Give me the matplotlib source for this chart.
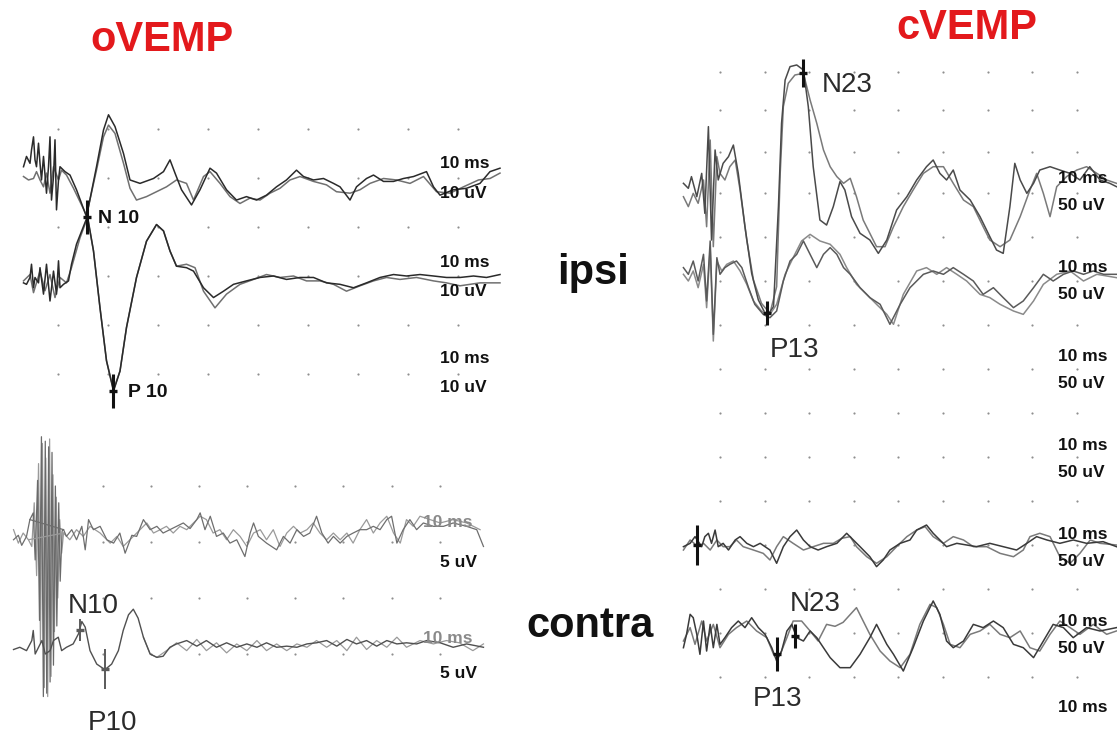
import numpy as np
import matplotlib
matplotlib.use("Agg")
import matplotlib.pyplot as plt

plt.rcParams['font.family'] = ['Liberation Sans', 'DejaVu Sans']

# ---------------- data: (latency ms, amplitude uV) read from the recording ----------------

# oVEMP ipsi, upper pair
ov_ipsi_a = [(3.1, 2.3), (3.7, 4.4), (4.4, 3.0), (4.7, 5.7), (5.1, 8.4), (5.4, 3.7), (5.7, 2.3),
             (6.1, 7.1), (6.4, 3.0), (6.7, -0.4), (7.1, 4.4), (7.7, -3.1), (8.1, 2.3), (8.4, 8.4),
             (8.7, -4.5), (9.1, 0.3), (9.4, 7.8), (9.7, -6.5), (10.1, -0.4), (10.4, 2.3), (11.4, 1.3),
             (12.4, 0.6), (13.7, -2.4), (15.7, -7.9), (17.7, 2.3), (19.1, 9.8), (20.1, 12.9),
             (21.4, 10.5), (23.1, 5.0), (24.4, -0.4), (26.4, -1.1), (29.1, -0.1), (31.1, 1.3),
             (32.4, 3.7), (33.4, 1.0), (34.7, -2.4), (36.7, -5.5), (38.4, -2.4), (40.4, 2.0),
             (41.7, 1.0), (43.7, -2.4), (45.7, -4.5), (47.7, -3.8), (49.7, -4.5), (51.7, -3.5),
             (53.7, -1.8), (55.7, -0.4), (57.7, 1.6), (59.1, 0.3), (61.1, -0.4), (63.1, -0.1),
             (65.1, -1.1), (66.4, -1.8), (68.4, -4.5), (69.7, -1.8), (71.7, -0.1), (73.1, 0.6),
             (75.1, -0.7), (77.1, -0.7), (79.1, -0.1), (81.1, 0.3), (83.7, 1.3), (85.1, -1.8),
             (86.4, -3.5), (89.1, -2.4), (91.7, -2.1), (94.4, -1.1), (96.4, 1.3), (98.4, 2.0)]
ov_ipsi_b = [(3.1, 0.3), (4.1, -0.4), (5.1, -0.1), (5.7, 1.3), (6.4, -0.4), (7.1, -1.8), (7.7, 1.0),
             (8.4, -3.1), (9.1, 2.3), (10.1, -0.4), (10.7, 1.6), (11.7, 0.6), (13.1, -2.1),
             (15.7, -7.6), (17.7, 1.6), (19.1, 8.4), (20.1, 10.8), (21.4, 9.1), (23.1, 3.0),
             (24.4, -2.1), (25.7, -4.5), (27.7, -3.8), (29.7, -2.8), (31.7, -1.8), (33.7, -0.4),
             (35.7, -1.1), (37.1, -4.5), (39.1, 0.3), (40.4, 1.3), (42.4, -1.1), (44.4, -3.8),
             (46.4, -5.2), (48.4, -4.1), (50.4, -4.5), (52.4, -3.1), (54.4, -2.1), (56.4, -0.4),
             (58.4, 0.3), (61.1, -0.7), (63.7, -1.4), (65.7, -2.8), (68.4, -3.1), (70.4, -2.4),
             (72.4, -1.1), (75.1, -0.1), (77.7, -0.4), (80.4, -1.1), (83.1, 0.3), (85.7, -2.8),
             (88.4, -3.1), (91.1, -1.8), (94.1, -0.4), (96.4, -0.1), (98.4, 1.0)]
# oVEMP ipsi, lower pair
ov_ipsi_c = [(3.1, -1.4), (3.7, -1.7), (4.4, -0.3), (4.7, 2.4), (5.1, -2.4), (5.4, -0.3), (6.1, -1.4),
             (6.4, 1.7), (7.1, -3.7), (7.7, 2.4), (8.4, -5.1), (9.1, 1.0), (9.7, -3.7), (10.1, 3.1),
             (10.4, -2.4), (11.1, -1.7), (12.1, -1.0), (12.7, 2.4), (13.7, 6.5), (15.9, 12.2),
             (17.1, 5.1), (18.4, -6.5), (19.7, -17.3), (21.1, -23.5), (22.4, -19.4), (23.7, -10.5),
             (25.7, -0.3), (27.7, 7.1), (29.7, 10.5), (31.1, 9.2), (32.4, 5.1), (33.7, 2.0),
             (35.7, 1.7), (37.1, 1.0), (39.1, -2.4), (41.1, -4.4), (43.1, -3.1), (45.1, -1.7),
             (47.7, -1.0), (50.4, -0.3), (53.1, 0.0), (55.7, -0.7), (58.4, -0.3), (61.1, -0.3),
             (63.7, -1.4), (66.4, -1.7), (69.1, -2.4), (71.7, -1.4), (74.4, -0.3), (77.1, 0.3),
             (79.7, 0.0), (82.4, 0.3), (85.1, 0.0), (87.7, -0.3), (90.4, -0.3), (93.1, 0.0),
             (95.7, -0.3), (98.4, 0.3)]
ov_ipsi_d = [(3.1, -1.0), (4.4, 0.3), (5.1, -3.4), (6.4, 1.0), (7.4, -3.0), (8.4, 0.3), (9.4, -4.4),
             (10.4, -0.3), (11.7, -1.4), (12.7, 1.7), (14.4, 7.8), (15.9, 11.9), (17.1, 5.1),
             (18.4, -6.5), (19.7, -17.3), (21.1, -23.2), (22.4, -19.4), (23.7, -10.5), (25.7, -0.3),
             (27.7, 7.1), (29.7, 10.5), (31.1, 9.2), (32.4, 5.1), (33.7, 2.0), (35.7, 2.4),
             (37.4, 1.7), (39.1, -3.1), (41.4, -6.5), (43.7, -3.7), (46.4, -1.7), (49.1, -0.7),
             (51.7, 0.3), (54.4, -0.3), (57.1, 0.0), (59.7, -1.0), (62.4, -1.0), (65.1, -1.7),
             (67.7, -3.1), (70.4, -2.0), (73.1, -1.0), (75.7, -0.3), (78.4, -0.7), (81.7, -0.3),
             (85.1, -1.0), (87.7, -1.4), (90.4, -2.0), (94.4, -1.4), (98.4, -1.4)]

# oVEMP contra
ov_con_a = [(1.4, 0.2), (2.4, 0.6), (3.1, -0.3), (4.1, 0.5), (4.8, 2.0), (11.8, 1.1), (12.4, 0.5),
            (13.5, 1.1), (14.5, 0.2), (15.6, 1.4), (16.3, -0.7), (17.0, 2.0), (18.0, 1.1), (19.4, 1.4),
            (20.8, 0.2), (22.2, -0.1), (23.5, 0.8), (24.6, -1.0), (26.0, 0.6), (27.0, 0.5), (28.4, 2.0),
            (29.8, 1.1), (31.2, 1.4), (32.5, 0.8), (33.9, 1.1), (35.3, 1.4), (36.7, 1.7), (38.1, 1.2),
            (39.5, 2.0), (40.2, 2.6), (41.2, 1.1), (42.3, 2.3), (43.6, 0.5), (45.0, 0.8), (46.4, -0.1),
            (47.8, 0.2), (49.5, -1.3), (50.6, 0.8), (51.3, 1.7), (52.3, 0.5), (54.0, -0.1),
            (56.1, -0.7), (57.5, 0.5), (58.9, -0.1), (60.3, 1.1), (61.7, 0.5), (63.0, 0.8),
            (64.4, 2.3), (65.5, 0.8), (66.8, -0.1), (67.9, 0.5), (69.3, -0.1), (70.7, 0.5),
            (72.0, 0.8), (73.4, 1.1), (74.8, 1.1), (76.2, 1.4), (77.6, 1.1), (79.0, 2.0), (80.0, 2.3),
            (81.1, -0.1), (82.4, 1.1), (83.8, 2.0), (85.2, 1.1), (86.6, 1.7), (88.7, 1.4),
            (90.8, 1.4), (92.8, 1.7), (95.6, 1.4), (97.7, 1.1), (99.1, -0.4)]
ov_con_b = [(1.4, 1.1), (2.4, -0.1), (3.4, 0.8), (4.5, 0.2), (11.8, 0.8), (13.1, 0.2), (14.5, 1.1),
            (15.9, 0.5), (17.3, 1.4), (19.4, 0.8), (21.5, -0.1), (22.9, 0.5), (24.2, -0.4),
            (25.6, 0.2), (27.0, 0.8), (29.1, 1.7), (30.5, 0.8), (31.9, 1.1), (33.2, 1.4), (34.6, 0.8),
            (36.0, 1.4), (37.4, 1.1), (38.8, 1.7), (40.2, 2.3), (41.5, 2.0), (42.9, 0.8), (44.3, 1.1),
            (45.7, 0.2), (47.1, 1.1), (48.5, 0.5), (49.9, -0.4), (51.3, 0.8), (52.7, 1.1),
            (54.0, 0.2), (55.4, 1.1), (56.8, -0.4), (58.2, 0.8), (59.6, 1.4), (61.0, 0.8),
            (62.4, 1.1), (63.7, 1.7), (65.1, 0.8), (66.5, 0.2), (67.9, 0.8), (69.3, 0.2), (70.7, 0.8),
            (72.0, -0.1), (73.4, 1.1), (74.8, 2.0), (76.2, 0.8), (77.6, 1.7), (79.0, 2.3),
            (80.4, 0.8), (81.8, -0.1), (83.1, 2.0), (84.5, 1.4), (85.9, 2.3), (88.0, 2.0),
            (90.1, 1.7), (92.8, 2.0), (95.6, 1.7), (98.4, 1.1)]
ov_con_art_a = [(4.8, 2.0), (5.5, 2.6), (5.9, -1.6), (6.4, 5.5), (6.8, -7.0), (7.2, 9.4),
                (7.6, -13.8), (8.0, 9.0), (8.3, -13.5), (8.7, 8.5), (9.0, -12.5), (9.4, 8.0),
                (9.7, -11.0), (10.1, 5.0), (10.4, -7.5), (10.8, 3.5), (11.1, -3.5), (11.5, 1.0),
                (11.8, 1.1)]
ov_con_art_b = [(4.5, 0.2), (5.2, -0.4), (5.7, 3.5), (6.2, -3.0), (6.6, 7.0), (7.0, -9.0),
                (7.4, 8.8), (7.8, -13.0), (8.1, 7.5), (8.5, -13.8), (8.9, 9.2), (9.2, -12.0),
                (9.6, 6.0), (9.9, -8.0), (10.3, 4.0), (10.6, -5.0), (11.0, 2.0), (11.4, -1.0),
                (11.8, 0.8)]
ov_con_c = [(1.4, 0.4), (2.7, 0.6), (4.1, 0.3), (5.2, 1.2), (5.5, 2.1), (5.9, 0.0), (6.6, 0.6),
            (7.3, 1.2), (8.0, 0.0), (9.0, 0.3), (9.7, 1.2), (10.7, 1.5), (11.4, 0.3), (12.4, 0.6),
            (13.8, 0.9), (14.9, 1.8), (15.6, 2.9), (16.3, 2.4), (17.3, 0.3), (18.7, -0.9),
            (20.4, -1.4), (21.8, -0.9), (23.2, 0.3), (24.2, 2.1), (25.3, 3.5), (26.3, 4.0),
            (27.3, 3.2), (28.4, 1.5), (29.8, 0.0), (31.2, -0.3), (32.5, -0.2), (33.9, 0.6),
            (35.3, 0.9), (37.4, 1.2), (39.5, 0.7), (41.5, 1.2), (43.6, 0.6), (45.7, 1.0), (47.8, 0.6),
            (49.9, 0.9), (52.0, 0.6), (54.0, 1.0), (56.1, 0.6), (58.2, 0.7), (60.3, 0.6), (62.4, 0.9),
            (64.4, 1.0), (66.5, 1.2), (68.6, 0.7), (70.7, 1.3), (72.7, 0.9), (74.8, 1.2), (76.9, 0.7),
            (79.0, 1.2), (81.1, 0.9), (83.1, 1.0), (85.2, 0.9), (87.3, 1.2), (90.1, 1.0), (92.8, 0.6),
            (95.6, 0.9), (99.1, 0.6)]
ov_con_d = [(28.4, 1.5), (29.8, 0.0), (31.2, -0.3), (33.2, 0.3), (35.3, 1.0), (37.4, 0.3),
            (39.5, 1.3), (41.5, 0.3), (43.6, 1.0), (45.7, 0.1), (47.8, 0.9), (49.9, 0.3), (52.0, 1.2),
            (54.0, 0.3), (56.1, 0.9), (58.2, 0.3), (60.3, 0.9), (62.4, 0.6), (64.4, 1.2), (66.5, 0.6),
            (68.6, 1.2), (70.7, 0.3), (72.7, 1.5), (74.8, 0.4), (76.9, 1.2), (79.0, 0.6), (81.1, 1.5),
            (83.1, 0.6), (85.9, 1.2), (88.7, 0.9), (91.4, 1.2), (94.1, 1.0), (96.9, 0.3), (99.1, 0.9)]

# cVEMP ipsi, upper pair
cv_ipsi_a = [(1.8, 11.0), (2.9, 5.3), (3.6, 18.6), (4.8, -4.2), (5.9, 22.3), (6.6, -23.1),
             (7.4, 75.4), (8.1, -53.4), (8.9, 48.9), (9.6, 14.8), (10.7, 33.7), (11.9, 41.3),
             (13.0, 54.5), (14.1, 22.3), (15.6, -38.3), (17.1, -91.3), (18.6, -121.6), (20.5, -140.5),
             (22.0, -129.2), (23.1, -15.5), (23.8, 79.2), (24.6, 128.4), (25.7, 143.6), (27.2, 145.5),
             (28.7, 139.8), (29.8, 98.1), (30.9, 29.9), (32.4, -30.7), (33.9, -36.4), (35.4, -15.5),
             (36.9, 12.9), (38.0, 3.4), (39.5, -26.9), (41.4, -45.8), (43.6, -53.4), (45.5, -68.6),
             (47.4, -53.4), (49.6, -19.3), (51.9, -4.2), (54.1, 14.8), (56.3, 29.9), (57.8, 37.5),
             (59.3, 22.3), (60.8, 14.8), (62.3, 26.1), (63.8, 3.4), (66.1, -8.0), (68.3, -26.9),
             (70.5, -49.6), (72.0, -64.8), (73.5, -68.6), (75.0, -15.5), (76.1, 33.7), (77.3, 14.8),
             (78.8, -0.4), (80.3, 11.0), (81.7, 26.1), (84.0, 29.9), (86.2, 26.1), (88.5, 22.3),
             (90.7, 14.8), (92.9, 29.9), (95.2, 14.8), (97.4, 11.0), (98.9, 7.2)]
cv_ipsi_b = [(1.8, -4.2), (2.9, -15.5), (4.0, -0.4), (5.1, -11.7), (6.3, 14.8), (7.0, -38.3),
             (7.8, 60.2), (8.5, -61.0), (9.3, 41.3), (10.0, 22.3), (11.1, 14.8), (12.2, 29.9),
             (13.4, 37.5), (14.5, 3.4), (16.0, -53.4), (17.5, -98.9), (19.3, -125.4), (21.2, -136.7),
             (22.7, -106.4), (23.5, 22.3), (24.2, 98.1), (25.3, 124.6), (26.8, 134.1), (28.7, 136.0),
             (30.2, 105.7), (31.7, 79.2), (33.2, 48.9), (34.7, 29.9), (36.2, 18.6), (37.7, 11.0),
             (39.2, 16.7), (40.6, -4.2), (42.1, -30.7), (43.6, -45.8), (45.1, -61.0), (47.0, -61.0),
             (48.9, -38.3), (51.1, -15.5), (53.3, 3.4), (55.6, 22.3), (57.8, 29.9), (60.1, 29.9),
             (62.3, 11.0), (64.6, -8.0), (66.8, -15.5), (69.0, -38.3), (70.5, -53.4), (72.8, -61.0),
             (75.0, -53.4), (77.3, -26.9), (79.5, 3.4), (81.0, 22.3), (82.5, -0.4), (84.0, -26.9),
             (85.5, 7.2), (87.7, 18.6), (90.0, 26.1), (92.2, 29.9), (94.5, 22.3), (96.7, 14.8),
             (98.9, 11.0)]
# cVEMP ipsi, lower pair
cv_ipsi_c = [(1.8, 15.2), (2.9, 7.6), (4.0, 22.7), (5.1, 0.0), (6.3, 30.3), (7.0, -22.7), (7.8, 45.5),
             (8.5, -60.6), (9.3, 26.5), (10.0, 7.6), (11.1, 15.2), (12.2, 18.9), (13.7, 22.7),
             (14.9, 15.2), (16.4, -7.6), (17.8, -26.5), (19.7, -37.9), (21.2, -41.7), (22.7, -34.1),
             (24.2, 0.0), (25.7, 22.7), (27.2, 30.3), (28.7, 45.5), (30.2, 30.3), (31.7, 15.2),
             (33.2, 30.3), (34.7, 37.9), (36.2, 30.3), (37.7, 15.2), (39.2, 7.6), (41.4, -7.6),
             (43.6, -18.9), (45.9, -26.5), (48.1, -49.2), (50.4, -26.5), (52.6, -7.6), (55.6, 7.6),
             (57.8, 11.4), (60.1, 7.6), (62.3, 15.2), (64.6, 7.6), (66.8, 0.0), (69.0, -15.2),
             (71.3, -7.6), (73.5, -18.9), (75.8, -30.3), (78.0, -22.7), (80.3, -7.6), (82.5, 7.6),
             (84.7, 0.0), (87.0, 7.6), (89.2, 11.4), (91.5, 7.6), (93.7, 11.4), (96.0, 7.6),
             (99.0, 7.6)]
cv_ipsi_d = [(1.8, 7.6), (2.9, 0.0), (4.0, 11.4), (5.1, -7.6), (6.3, 18.9), (7.0, -30.3), (7.8, 37.9),
             (8.5, -68.2), (9.3, 22.7), (10.4, 11.4), (11.5, 18.9), (13.0, 22.7), (14.5, 11.4),
             (16.0, -3.8), (17.5, -22.7), (19.3, -34.1), (21.2, -37.9), (22.7, -26.5), (24.6, 7.6),
             (26.4, 26.5), (28.3, 45.5), (30.2, 53.0), (32.4, 45.5), (34.7, 41.7), (36.9, 30.3),
             (38.4, 15.2), (40.6, -3.8), (42.9, -15.2), (45.1, -26.5), (47.4, -37.9), (48.9, -49.2),
             (51.1, -15.2), (54.1, 11.4), (56.3, 15.2), (58.6, 7.6), (60.8, 15.2), (63.1, 7.6),
             (65.3, 0.0), (68.3, -15.2), (70.5, -18.9), (72.8, -26.5), (75.8, -34.1), (78.0, -37.9),
             (80.3, -22.7), (82.5, -3.8), (85.5, 7.6), (88.5, 11.4), (91.5, 0.0), (94.5, 7.6),
             (98.9, 3.8)]

# cVEMP contra, upper pair
cv_con_a = [(1.8, -1.9), (3.3, 1.9), (4.4, 9.5), (5.9, -1.9), (6.6, 9.5), (7.4, 13.3), (8.1, 1.9),
            (8.9, 17.0), (9.6, -1.9), (10.7, 1.9), (11.9, -5.7), (13.4, 5.7), (14.5, 9.5),
            (16.0, 1.9), (17.5, -1.9), (19.0, 1.9), (21.2, -5.7), (22.7, -20.8), (24.2, -1.9),
            (25.7, 9.5), (27.2, 17.0), (28.7, 5.7), (30.2, -1.9), (32.0, -5.7), (33.9, -1.9),
            (36.2, 1.9), (38.4, 13.3), (39.9, 5.7), (41.4, -1.9), (43.6, -13.3), (45.1, -24.6),
            (46.6, -17.0), (48.1, -5.7), (50.4, 1.9), (52.6, 5.7), (54.1, 17.0), (56.3, 22.7),
            (57.8, 13.3), (59.3, 5.7), (60.8, -1.9), (63.1, 1.9), (65.3, 0.0), (67.5, -1.9),
            (70.5, 1.9), (73.5, -1.9), (76.5, -5.7), (78.8, 1.9), (81.0, 9.5), (83.3, 5.7),
            (86.2, 1.9), (89.2, 5.7), (92.2, 1.9), (95.9, 3.8), (98.9, -1.9)]
cv_con_b = [(1.8, -5.7), (3.3, 5.7), (5.1, -1.9), (6.3, 1.9), (7.8, -5.7), (9.3, 5.7), (10.7, -1.9),
            (12.2, -1.9), (13.7, 5.7), (15.2, -1.9), (17.5, -5.7), (19.7, -9.5), (21.2, -17.0),
            (22.7, -1.9), (24.2, 9.5), (26.4, 1.9), (28.7, -5.7), (30.9, -1.9), (33.2, 1.9),
            (35.4, 1.9), (37.3, 7.6), (39.2, 9.5), (40.6, -1.9), (42.9, -13.3), (45.1, -20.8),
            (47.4, -13.3), (49.6, -1.9), (51.9, 9.5), (54.1, 17.0), (56.0, 20.8), (57.8, 9.5),
            (60.1, 1.9), (62.3, 9.5), (64.6, 5.7), (66.8, -1.9), (69.8, -1.9), (72.8, -9.5),
            (75.8, -13.3), (78.0, -5.7), (79.5, 9.5), (81.7, 13.3), (84.0, 9.5), (86.2, -13.3),
            (88.5, -20.8), (90.7, -9.5), (93.0, 5.7), (95.2, 1.9), (98.9, 0.0)]
# cVEMP contra, lower pair
cv_con_c = [(1.8, -16.7), (2.5, -1.5), (3.3, 21.2), (4.0, 17.4), (4.8, -1.5), (5.5, -24.2),
            (6.3, 13.6), (7.0, -20.5), (7.8, 9.8), (8.5, -16.7), (9.3, 9.8), (10.0, -12.9),
            (11.1, -5.3), (12.6, 6.1), (14.1, 13.6), (15.6, 6.1), (17.1, 17.4), (18.6, 6.1),
            (20.1, -1.5), (21.6, -16.7), (22.7, -31.8), (23.8, -20.5), (25.0, 2.3), (26.1, 9.8),
            (27.2, -5.3), (28.7, -9.1), (30.2, 2.3), (31.7, -5.3), (33.2, -16.7), (34.7, -28.0),
            (36.9, -39.4), (39.2, -39.4), (41.4, -24.2), (43.6, -5.3), (45.1, 9.8), (47.4, -12.9),
            (48.9, -24.2), (51.1, -43.2), (53.3, -16.7), (55.6, 13.6), (57.8, 36.4), (59.3, 21.2),
            (60.8, -9.1), (62.3, -16.7), (64.6, -9.1), (66.8, 9.8), (69.0, 6.1), (71.3, 13.6),
            (73.5, 6.1), (75.8, -12.9), (78.0, -16.7), (80.3, -28.0), (82.5, -9.1), (84.7, 9.8),
            (87.0, 6.1), (89.2, -5.3), (92.2, 6.1), (95.2, 2.3), (98.9, 6.1)]
cv_con_d = [(1.8, -9.1), (3.3, 6.1), (4.4, -12.9), (5.9, 13.6), (7.0, -9.1), (8.5, 9.8), (10.0, -16.7),
            (11.9, -1.5), (13.7, 6.1), (16.0, 13.6), (18.2, 2.3), (20.5, -5.3), (22.0, -24.2),
            (23.5, -24.2), (25.0, -5.3), (26.4, 13.6), (28.3, 13.6), (30.2, 2.3), (32.0, -9.1),
            (33.9, 9.8), (35.8, 7.6), (37.6, 12.1), (40.6, 28.8), (42.1, 13.6), (43.6, -1.5),
            (45.9, -20.5), (48.1, -31.8), (50.4, -39.4), (52.6, -24.2), (54.8, 9.8), (57.1, 32.6),
            (58.6, 28.8), (60.1, 9.8), (61.6, -12.9), (63.8, -16.7), (66.1, -1.5), (68.3, 2.3),
            (70.5, 9.8), (72.8, -1.5), (75.0, -5.3), (77.3, 2.3), (79.5, -16.7), (81.7, -20.5),
            (84.0, -1.5), (86.2, 13.6), (88.5, 6.1), (90.7, -1.5), (93.7, 9.8), (96.7, -1.5),
            (98.9, 2.3)]

# peak markers: (latency ms, amplitude uV, row)
ov_ipsi_marks = [(15.8, -7.9, 0), (21.0, -23.5, 1)]
ov_con_marks = [(15.2, 2.1, 1), (20.4, -1.3, 1)]
cv_ipsi_marks = [(28.7, 136.0, 0), (20.5, -136.0, 0)]
cv_con_marks = [(22.7, -23.9, 3), (26.8, -3.4, 3), (4.8, 0.0, 2)]

# grid divisions (ms, uV)
ov_ipsi_grid_t = [10, 20, 30, 40, 50, 60, 70, 80, 90]
ov_ipsi_grid_v = [10, 0, -10, -20, -30, -40]
ov_con_grid_t = [20, 30, 40, 50, 60, 70, 80, 90]
ov_con_grid_v = [5, 0, -5, -10]
cv_grid_t = [10, 20, 30, 40, 50, 60, 70, 80, 90]
cv_grid_v = [137, 94, 47, 0, -50, -100, -150, -200, -250, -300, -350, -400, -450, -500, -550]

# ---------------- layout ----------------
W, H = 1117, 736
fig = plt.figure(figsize=(W / 100, H / 100), dpi=100)


def panel(box, x0, px_ms, base, px_uv):
    l, t, r, b = box
    ax = fig.add_axes([l / W, 1 - b / H, (r - l) / W, (b - t) / H])
    ax.set_xlim((l - x0) / px_ms, (r - x0) / px_ms)
    ax.set_ylim((base - b) / px_uv, (base - t) / px_uv)
    ax.axis('off')
    return ax


def trace(ax, pts, offset, color, lw=1.1):
    tt, vv = np.array(pts).T
    ax.plot(tt, vv + offset, color=color, lw=lw, solid_joinstyle='round')


def grid(ax, ts, vs):
    gt, gv = np.meshgrid(ts, vs)
    ax.scatter(gt.ravel(), gv.ravel(), s=2.5, color='#8f8f8f', lw=0)


def marks(ax, pts, offsets, size, color='#111111', mew=2.2):
    for (t, v, row), ms in zip(pts, size):
        ax.plot(t, v + offsets[row], marker='|', ms=ms, mew=mew, color=color)
        ax.plot(t, v + offsets[row], marker='_', ms=6, mew=2.4, color=color)


ax_a = panel((0, 60, 520, 420), 8, 5.0, 178, 4.9)
ax_b = panel((0, 420, 520, 736), 6.8, 4.81, 542, 11.2)
ax_c = panel((670, 40, 1117, 736), 675.4, 4.46, 193, 0.88)

a_off = [0, -20]
b_off = [0, -10]
c_off = [0, -100, -400, -500]

grid(ax_a, ov_ipsi_grid_t, ov_ipsi_grid_v)
grid(ax_b, ov_con_grid_t, ov_con_grid_v)
grid(ax_c, cv_grid_t, cv_grid_v)

trace(ax_a, ov_ipsi_b, a_off[0], '#707070')
trace(ax_a, ov_ipsi_a, a_off[0], '#2a2a2a')
trace(ax_a, ov_ipsi_d, a_off[1], '#707070')
trace(ax_a, ov_ipsi_c, a_off[1], '#2a2a2a')
marks(ax_a, ov_ipsi_marks, a_off, [24, 24])

trace(ax_b, ov_con_art_b, b_off[0], '#9a9a9a', 0.9)
trace(ax_b, ov_con_art_a, b_off[0], '#6a6a6a', 0.9)
trace(ax_b, ov_con_b, b_off[0], '#9a9a9a', 0.9)
trace(ax_b, ov_con_a, b_off[0], '#6e6e6e', 0.9)
trace(ax_b, ov_con_d, b_off[1], '#9a9a9a', 0.9)
trace(ax_b, ov_con_c, b_off[1], '#505050', 1.0)
marks(ax_b, ov_con_marks, b_off, [16, 29], color='#5a5a5a', mew=1.4)

trace(ax_c, cv_ipsi_b, c_off[0], '#7a7a7a')
trace(ax_c, cv_ipsi_a, c_off[0], '#4a4a4a')
trace(ax_c, cv_ipsi_d, c_off[1], '#8a8a8a')
trace(ax_c, cv_ipsi_c, c_off[1], '#5a5a5a')
trace(ax_c, cv_con_b, c_off[2], '#7a7a7a')
trace(ax_c, cv_con_a, c_off[2], '#3a3a3a')
trace(ax_c, cv_con_d, c_off[3], '#7a7a7a')
trace(ax_c, cv_con_c, c_off[3], '#3a3a3a')
marks(ax_c, cv_ipsi_marks, c_off, [20, 17])
marks(ax_c, cv_con_marks, c_off, [25, 17, 29])

# ---------------- text overlay (pixel coordinates) ----------------
ax_t = fig.add_axes([0, 0, 1, 1])
ax_t.set_xlim(0, W)
ax_t.set_ylim(H, 0)
ax_t.axis('off')

red = '#e3191c'
ax_t.text(162, 51, 'oVEMP', color=red, fontsize=30, fontweight='bold', ha='center', va='baseline')
ax_t.text(967, 39, 'cVEMP', color=red, fontsize=30, fontweight='bold', ha='center', va='baseline')
ax_t.text(593, 284, 'ipsi', color='#111111', fontsize=30, fontweight='bold', ha='center', va='baseline')
ax_t.text(590, 637, 'contra', color='#111111', fontsize=30, fontweight='bold', ha='center', va='baseline')

small = dict(fontsize=12.5, fontweight='bold', va='baseline', color='#111111')
for y_ms, y_uv in [(168, 198), (267, 296), (363, 392)]:
    ax_t.text(440, y_ms, '10 ms', **small)
    ax_t.text(440, y_uv, '10 uV', **small)
for y_ms, y_uv in [(527, 567), (643, 678)]:
    ax_t.text(423, y_ms, '10 ms', fontsize=12.5, fontweight='bold', va='baseline', color='#8a8a8a')
    ax_t.text(440, y_uv, '5 uV', **small)
for y_ms in [183, 272, 361, 450, 539, 626, 712]:
    ax_t.text(1058, y_ms, '10 ms', **small)
    if y_ms < 700:
        ax_t.text(1058, y_ms + 27, '50 uV', **small)

ax_t.text(98, 223, 'N 10', fontsize=14, fontweight='bold', va='baseline', color='#111111')
ax_t.text(128, 397, 'P 10', fontsize=14, fontweight='bold', va='baseline', color='#111111')

peak = dict(fontsize=20, va='baseline', color='#2b2b2b')
ax_t.text(68, 613, 'N10', **peak)
ax_t.text(88, 730, 'P10', **peak)
ax_t.text(822, 92, 'N23', **peak)
ax_t.text(770, 357, 'P13', **peak)
ax_t.text(790, 611, 'N23', **peak)
ax_t.text(753, 706, 'P13', **peak)

fig.savefig('out.png', dpi=100, facecolor='white')
